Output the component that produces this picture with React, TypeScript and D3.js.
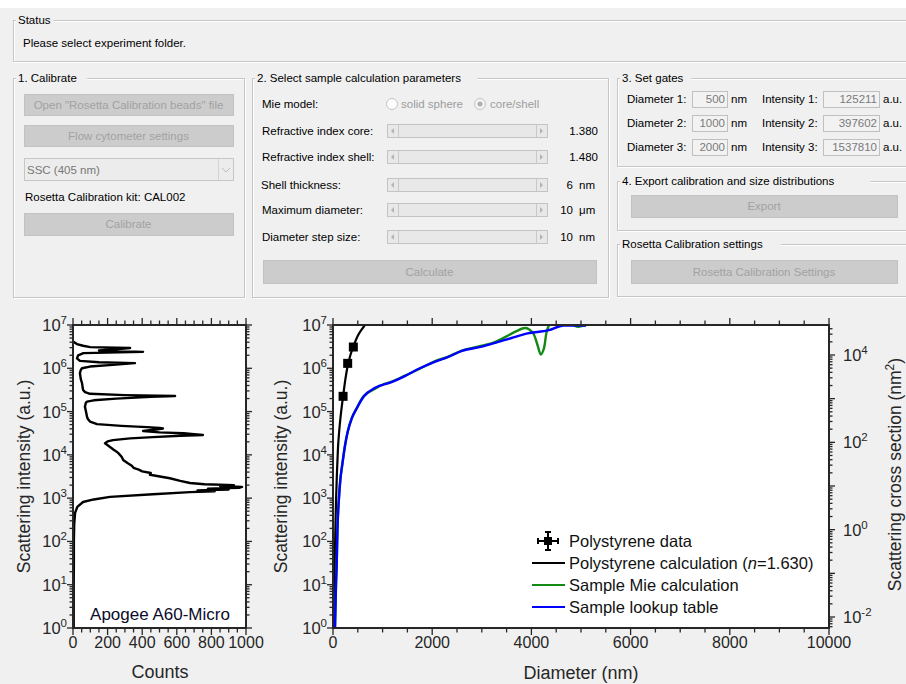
import React from 'react';
import * as d3 from 'd3';

const W = 906;
const H = 684;

// Apogee A60-Micro histogram: log10(scattering intensity) vs counts
const histLogI = [0.0, 0.5, 1.0, 1.5, 2.0, 2.4, 2.66, 2.8, 2.91, 2.97, 3.03, 3.09, 3.14, 3.16, 3.18, 3.2, 3.22, 3.24, 3.26, 3.28, 3.3, 3.32, 3.35, 3.4, 3.46, 3.54, 3.58, 3.62, 3.66, 3.7, 3.75, 3.81, 3.88, 3.95, 4.04, 4.08, 4.12, 4.18, 4.24, 4.27, 4.31, 4.34, 4.38, 4.41, 4.44, 4.46, 4.48, 4.5, 4.52, 4.55, 4.58, 4.61, 4.62, 4.64, 4.67, 4.71, 4.77, 4.83, 4.88, 5.0, 5.11, 5.2, 5.23, 5.26, 5.3, 5.34, 5.36, 5.38, 5.41, 5.45, 5.5, 5.58, 5.66, 5.75, 5.89, 5.96, 6.0, 6.04, 6.08, 6.12, 6.14, 6.17, 6.23, 6.3, 6.35, 6.38, 6.41, 6.44, 6.47, 6.49, 6.52, 6.56, 6.62];
const histCounts = [4, 4, 4, 5, 5, 7, 12, 25, 58, 120, 214, 462, 676, 820, 720, 900, 780, 960, 977, 850, 930, 760, 676, 620, 560, 445, 450, 400, 380, 350, 340, 315, 290, 282, 262, 250, 235, 214, 195, 185, 200, 231, 330, 462, 620, 751, 700, 640, 500, 405, 470, 520, 500, 428, 280, 139, 98, 86, 81, 75, 69, 74, 81, 120, 250, 450, 590, 300, 98, 70, 58, 55, 52, 45, 40, 45, 52, 98, 230, 358, 150, 40, 23, 30, 60, 405, 150, 250, 330, 100, 58, 23, 0];

// Polystyrene data (beads)
const psDiam = [203, 296, 410];
const psInt = [2.25e5, 1.3e6, 3.1e6];

// Polystyrene calculation (n = 1.630)
const psCalcDiam = [20, 25, 30, 40, 50, 60, 80, 100, 125, 150, 175, 200, 250, 300, 350, 400, 450, 500, 600, 700];
const psCalcLogI = [-0.2, 0.4, 1.0, 1.8, 2.4, 2.9, 3.6, 4.15, 4.55, 4.85, 5.1, 5.32, 5.75, 6.08, 6.3, 6.47, 6.62, 6.75, 6.93, 7.08];

// Sample Mie calculation
const mieDiam = [40, 50, 60, 75, 90, 120, 150, 190, 240, 300, 380, 480, 620, 850, 1000, 1180, 1450, 1750, 2050, 2300, 2600, 3000, 3250, 3470, 3700, 3870, 3950, 4040, 4120, 4190, 4250, 4310, 4375, 4500, 4650, 4800, 4950, 5100, 5200];
const mieLogI = [0, 0.5, 1.0, 1.5, 2.3, 3.0, 3.45, 3.8, 4.2, 4.55, 4.85, 5.08, 5.36, 5.53, 5.62, 5.69, 5.83, 5.99, 6.16, 6.26, 6.41, 6.52, 6.6, 6.72, 6.86, 6.93, 6.9, 6.8, 6.55, 6.32, 6.45, 6.85, 7.02, 7.03, 7.02, 7.01, 6.96, 7.0, 7.02];

// Sample lookup table
const lutDiam = [40, 50, 60, 75, 90, 120, 150, 190, 240, 300, 380, 480, 620, 850, 1180, 1450, 1750, 2050, 2300, 2600, 3000, 3250, 3600, 3900, 4350, 4650, 5100];
const lutLogI = [0, 0.5, 1.0, 1.5, 2.3, 3.0, 3.45, 3.8, 4.2, 4.55, 4.85, 5.08, 5.35, 5.55, 5.68, 5.82, 6.0, 6.15, 6.25, 6.4, 6.5, 6.58, 6.7, 6.8, 6.88, 6.99, 6.99];

const countTicks = [0, 200, 400, 600, 800, 1000];
const diamTicks = [0, 2000, 4000, 6000, 8000, 10000];
const intensityExp = [0, 1, 2, 3, 4, 5, 6, 7];
const crossExp = [-2, 0, 2, 4];
const crossLimits = [-2.252, 4.687];

const mieRows = [
  { label: 'Refractive index core:', value: '1.380', unit: '' },
  { label: 'Refractive index shell:', value: '1.480', unit: '' },
  { label: 'Shell thickness:', value: '6', unit: 'nm' },
  { label: 'Maximum diameter:', value: '10', unit: 'μm' },
  { label: 'Diameter step size:', value: '10', unit: 'nm' },
];
const gateDiam = ['500', '1000', '2000'];
const gateInt = ['125211', '397602', '1537810'];

const PF = '"Liberation Sans", Arial, sans-serif';
const AX = '#262626';
const GUI = 11.5;

const logTicks = (lo: number, hi: number) => {
  const out: { v: number; major: boolean }[] = [];
  for (let e = Math.floor(Math.log10(lo)); e <= Math.ceil(Math.log10(hi)); e++) {
    for (let k = 1; k <= 9; k++) {
      const v = k * Math.pow(10, e);
      if (v >= lo * 0.999 && v <= hi * 1.001) out.push({ v, major: k === 1 });
    }
  }
  return out;
};

const Group = ({ x, y, w, h, title }: any) => (
  <g>
    <rect x={x + 1.5} y={y + 1.5} width={w} height={h} fill="none" stroke="#ffffff" />
    <rect x={x + 0.5} y={y + 0.5} width={w} height={h} fill="none" stroke="#c6c6c6" />
    <rect x={x + 3} y={y - 7} width={title.length * 5.6 + 4} height={14} fill="#f0f0f0" />
    <text x={x + 5} y={y + 4} fontSize={GUI} fill="#000">{title}</text>
  </g>
);

const Button = ({ x, y, w, h, label }: any) => (
  <g>
    <rect x={x + 0.5} y={y + 0.5} width={w} height={h} fill="#cccccc" stroke="#c2c2c2" />
    <text x={x + w / 2} y={y + h / 2 + 4} fontSize={GUI} fill="#a2a2a2" textAnchor="middle">{label}</text>
  </g>
);

const Slider = ({ x, cy, w }: any) => (
  <g>
    <rect x={x + 0.5} y={cy - 7 + 0.5} width={w} height={13} fill="#e8e8e8" stroke="#c4c4c4" />
    <line x1={x + 11.5} x2={x + 11.5} y1={cy - 6} y2={cy + 6} stroke="#c8c8c8" />
    <line x1={x + w - 10.5} x2={x + w - 10.5} y1={cy - 6} y2={cy + 6} stroke="#c8c8c8" />
    <path d={`M${x + 4},${cy} L${x + 7},${cy - 3} L${x + 7},${cy + 3}Z`} fill="#b4b4b4" />
    <path d={`M${x + w - 4},${cy} L${x + w - 7},${cy - 3} L${x + w - 7},${cy + 3}Z`} fill="#b4b4b4" />
  </g>
);

const SupText = ({ x, y, base, exp, anchor }: any) => (
  <text x={x} y={y} fontSize={16.5} textAnchor={anchor} fill={AX}>
    {base}
    <tspan dy={-7} fontSize={11.5}>{exp}</tspan>
  </text>
);

export default function App() {
  const xHist = d3.scaleLinear().domain([0, 1000]).range([73, 246]);
  const yInt = d3.scaleLog().domain([1, 1e7]).range([628, 325]);
  const xDiam = d3.scaleLinear().domain([0, 10000]).range([333, 829]);
  const yCross = d3.scaleLog().domain(crossLimits.map(e => Math.pow(10, e))).range([628, 325]);

  const histLine = d3.line<number>()
    .x((_, i) => xHist(histCounts[i]))
    .y((_, i) => yInt(Math.pow(10, histLogI[i])))(histLogI) || '';

  const mkLine = (xs: number[], ls: number[], curve: any) =>
    d3.line<number>()
      .x((_, i) => xDiam(xs[i]))
      .y((_, i) => yInt(Math.pow(10, ls[i])))
      .curve(curve)(xs) || '';

  const psLine = mkLine(psCalcDiam, psCalcLogI, d3.curveMonotoneX);
  const mieLine = mkLine(mieDiam, mieLogI, d3.curveCatmullRom);
  const lutLine = mkLine(lutDiam, lutLogI, d3.curveMonotoneX);

  const intTicks = logTicks(1, 1e7);
  const crossTicks = logTicks(Math.pow(10, crossLimits[0]), Math.pow(10, crossLimits[1]));
  const histMinor = d3.range(0, 1001, 50);
  const diamMinor = d3.range(0, 10001, 500);

  const yAxisTicks = (x0: number, dir: number, ticks: any[], sc: any) =>
    ticks.map((t, i) => (
      <line key={i} x1={x0} x2={x0 + dir * (t.major ? 6 : 3.5)} y1={sc(t.v)} y2={sc(t.v)} stroke={AX} strokeWidth={1.3} />
    ));
  const xAxisTicks = (y0: number, dir: number, vals: number[], sc: any, step: number) =>
    vals.map((v, i) => (
      <line key={i} y1={y0} y2={y0 + dir * (v % step === 0 ? 7 : 4.5)} x1={sc(v)} x2={sc(v)} stroke={AX} strokeWidth={1.3} />
    ));

  const legendRows = [541, 563, 585, 607];
  const lx0 = 532, lx1 = 565, ltx = 569;

  return (
    <svg width={W} height={H} style={{ position: 'absolute', left: 0, top: 0 }} fontFamily={PF}>
      <defs>
        <clipPath id="clipHist"><rect x={73} y={325} width={173} height={303} /></clipPath>
        <clipPath id="clipMain"><rect x={333} y={325} width={496} height={303} /></clipPath>
      </defs>
      <rect x={0} y={0} width={W} height={H} fill="#f0f0f0" />
      <rect x={0} y={0} width={W} height={8} fill="#ffffff" />

      {/* Status */}
      <Group x={13} y={20} w={900} h={41} title="Status" />
      <text x={23} y={47} fontSize={GUI}>Please select experiment folder.</text>

      {/* 1. Calibrate */}
      <Group x={13} y={78} w={231} h={219} title="1. Calibrate" />
      <Button x={24} y={94} w={209} h={21} label={'Open "Rosetta Calibration beads" file'} />
      <Button x={24} y={125} w={209} h={21} label="Flow cytometer settings" />
      <rect x={24.5} y={158.5} width={209} height={22} fill="#ececec" stroke="#c6c6c6" />
      <line x1={218.5} x2={218.5} y1={159} y2={180} stroke="#d4d4d4" />
      <path d="M222,168 L226,172 L230,168" fill="none" stroke="#bdbdbd" />
      <text x={27} y={174} fontSize={GUI} fill="#777">SSC (405 nm)</text>
      <text x={25} y={201} fontSize={GUI}>Rosetta Calibration kit: CAL002</text>
      <Button x={24} y={213} w={209} h={22} label="Calibrate" />

      {/* 2. Select sample calculation parameters */}
      <Group x={252} y={78} w={356} h={219} title="2. Select sample calculation parameters" />
      <text x={262} y={108} fontSize={GUI}>Mie model:</text>
      <circle cx={392} cy={104} r={5.5} fill="#fff" stroke="#c4c4c4" />
      <text x={401} y={108} fontSize={GUI} fill="#9c9c9c">solid sphere</text>
      <circle cx={480} cy={104} r={5.5} fill="#f4f4f4" stroke="#c4c4c4" />
      <circle cx={480} cy={104} r={2.5} fill="#b0b0b0" />
      <text x={490} y={108} fontSize={GUI} fill="#9c9c9c">core/shell</text>
      {mieRows.map((r, i) => {
        const cy = [131, 157, 185, 210, 237][i];
        return (
          <g key={i}>
            <text x={i === 2 ? 261 : 262} y={cy + 4} fontSize={GUI}>{r.label}</text>
            <Slider x={387} cy={cy} w={160} />
            {r.unit === '' ? (
              <text x={598} y={cy + 4} fontSize={GUI} textAnchor="end">{r.value}</text>
            ) : (
              <g>
                <text x={573} y={cy + 4} fontSize={GUI} textAnchor="end">{r.value}</text>
                <text x={579} y={cy + 4} fontSize={GUI}>{r.unit}</text>
              </g>
            )}
          </g>
        );
      })}
      <Button x={263} y={260} w={333} h={23} label="Calculate" />

      {/* 3. Set gates */}
      <Group x={617} y={78} w={300} h={88} title="3. Set gates" />
      {gateDiam.map((d, i) => {
        const cy = [99, 123, 147][i];
        return (
          <g key={i}>
            <text x={627} y={cy + 4} fontSize={GUI}>{`Diameter ${i + 1}:`}</text>
            <rect x={692.5} y={cy - 7.5} width={35} height={16} fill="#f2f2f2" stroke="#c0c0c0" />
            <text x={725} y={cy + 4} fontSize={GUI} textAnchor="end" fill="#7a7a7a">{d}</text>
            <text x={731} y={cy + 4} fontSize={GUI}>nm</text>
            <text x={762} y={cy + 4} fontSize={GUI}>{`Intensity ${i + 1}:`}</text>
            <rect x={823.5} y={cy - 7.5} width={56} height={16} fill="#f2f2f2" stroke="#c0c0c0" />
            <text x={877} y={cy + 4} fontSize={GUI} textAnchor="end" fill="#7a7a7a">{gateInt[i]}</text>
            <text x={883} y={cy + 4} fontSize={GUI}>a.u.</text>
          </g>
        );
      })}

      {/* 4. Export */}
      <Group x={617} y={181} w={300} h={49} title="4. Export calibration and size distributions" />
      <Button x={631} y={195} w={266} h={22} label="Export" />

      {/* Rosetta Calibration settings */}
      <Group x={617} y={244} w={300} h={52} title="Rosetta Calibration settings" />
      <Button x={631} y={260} w={266} h={23} label="Rosetta Calibration Settings" />

      {/* ---------- Histogram plot ---------- */}
      <rect x={73} y={325} width={173} height={303} fill="#fff" />
      <path d={histLine} fill="none" stroke="#000" strokeWidth={2.4} strokeLinejoin="round" clipPath="url(#clipHist)" />
      <text x={160} y={620} fontSize={17} textAnchor="middle" fill="#0b0b2a">Apogee A60-Micro</text>
      {yAxisTicks(73, -1, intTicks, yInt)}
      {yAxisTicks(246, 1, intTicks, yInt)}
      {xAxisTicks(628, 1, histMinor, xHist, 200)}
      {xAxisTicks(325, -1, histMinor, xHist, 200)}
      <rect x={73} y={325} width={173} height={303} fill="none" stroke={AX} strokeWidth={2} />
      {intensityExp.map(e => (
        <SupText key={e} x={67} y={yInt(Math.pow(10, e)) + 6} base="10" exp={e} anchor="end" />
      ))}
      {countTicks.map(c => (
        <text key={c} x={xHist(c)} y={648} fontSize={16} textAnchor="middle" fill={AX}>{c}</text>
      ))}
      <text x={160} y={678} fontSize={18} textAnchor="middle" fill={AX}>Counts</text>
      <text transform={`translate(30,${(325 + 628) / 2}) rotate(-90)`} fontSize={17.5} textAnchor="middle" fill={AX}>Scattering intensity (a.u.)</text>

      {/* ---------- Main plot ---------- */}
      <rect x={333} y={325} width={496} height={303} fill="#fff" />
      <g clipPath="url(#clipMain)">
        <path d={psLine} fill="none" stroke="#000" strokeWidth={2.2} />
        <path d={mieLine} fill="none" stroke="#138a13" strokeWidth={2.4} />
        <path d={lutLine} fill="none" stroke="#0000ff" strokeWidth={2.4} />
        {psDiam.map((d, i) => (
          <rect key={i} x={xDiam(d) - 4.5} y={yInt(psInt[i]) - 4.5} width={9} height={9} fill="#000" />
        ))}
      </g>
      {yAxisTicks(333, -1, intTicks, yInt)}
      {yAxisTicks(829, 1, crossTicks, yCross)}
      {xAxisTicks(628, 1, diamMinor, xDiam, 2000)}
      {xAxisTicks(325, -1, diamMinor, xDiam, 2000)}
      <rect x={333} y={325} width={496} height={303} fill="none" stroke={AX} strokeWidth={2} />
      {intensityExp.map(e => (
        <SupText key={e} x={327} y={yInt(Math.pow(10, e)) + 6} base="10" exp={e} anchor="end" />
      ))}
      {crossExp.map(e => (
        <SupText key={e} x={843} y={yCross(Math.pow(10, e)) + 6} base="10" exp={e} anchor="start" />
      ))}
      {diamTicks.map(d => (
        <text key={d} x={xDiam(d)} y={648} fontSize={16} textAnchor="middle" fill={AX}>{d}</text>
      ))}
      <text x={581} y={679} fontSize={18} textAnchor="middle" fill={AX}>Diameter (nm)</text>
      <text transform={`translate(287,${(325 + 628) / 2}) rotate(-90)`} fontSize={17.5} textAnchor="middle" fill={AX}>Scattering intensity (a.u.)</text>
      <text transform={`translate(901,${(325 + 628) / 2 - 2}) rotate(-90)`} fontSize={17.5} textAnchor="middle" fill={AX}>
        Scattering cross section (nm<tspan dy={-7} fontSize={12}>2</tspan><tspan dy={7}>)</tspan>
      </text>

      {/* legend */}
      <g>
        <line x1={548} x2={548} y1={legendRows[0] - 9} y2={legendRows[0] + 9} stroke="#000" strokeWidth={2} />
        <line x1={538} x2={558} y1={legendRows[0]} y2={legendRows[0]} stroke="#000" strokeWidth={2} />
        <line x1={545} x2={551} y1={legendRows[0] - 9} y2={legendRows[0] - 9} stroke="#000" strokeWidth={2} />
        <line x1={545} x2={551} y1={legendRows[0] + 9} y2={legendRows[0] + 9} stroke="#000" strokeWidth={2} />
        <line x1={538} x2={538} y1={legendRows[0] - 3} y2={legendRows[0] + 3} stroke="#000" strokeWidth={2} />
        <line x1={558} x2={558} y1={legendRows[0] - 3} y2={legendRows[0] + 3} stroke="#000" strokeWidth={2} />
        <rect x={544} y={legendRows[0] - 4} width={8} height={8} fill="#000" />
        <text x={ltx} y={legendRows[0] + 6} fontSize={16.5} fill="#111">Polystyrene data</text>
        <line x1={lx0} x2={lx1} y1={legendRows[1]} y2={legendRows[1]} stroke="#000" strokeWidth={2} />
        <text x={ltx} y={legendRows[1] + 6} fontSize={16.5} fill="#111">Polystyrene calculation (<tspan fontStyle="italic">n</tspan>=1.630)</text>
        <line x1={lx0} x2={lx1} y1={legendRows[2]} y2={legendRows[2]} stroke="#138a13" strokeWidth={2} />
        <text x={ltx} y={legendRows[2] + 6} fontSize={16.5} fill="#111">Sample Mie calculation</text>
        <line x1={lx0} x2={lx1} y1={legendRows[3]} y2={legendRows[3]} stroke="#0000ff" strokeWidth={2} />
        <text x={ltx} y={legendRows[3] + 6} fontSize={16.5} fill="#111">Sample lookup table</text>
      </g>
    </svg>
  );
}
